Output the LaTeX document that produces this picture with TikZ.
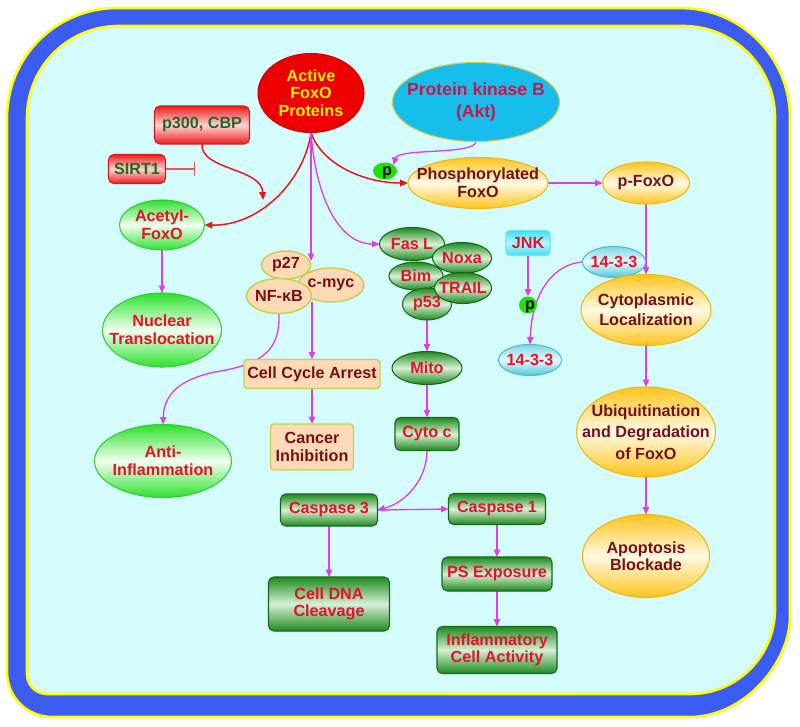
\documentclass[tikz,border=0pt]{standalone}
\usepackage{fontspec}
\setmainfont{Liberation Sans}
\usetikzlibrary{shapes.geometric, arrows.meta, calc}
\definecolor{actred}{HTML}{EE0000}
\definecolor{actbd}{HTML}{D40000}
\definecolor{ylw}{HTML}{FFEE00}
\definecolor{aktfill}{HTML}{17BEEB}
\definecolor{aktbd}{HTML}{D8C848}
\definecolor{aktred}{HTML}{C8174E}
\definecolor{rtop}{HTML}{EE1C1C}
\definecolor{rmid}{HTML}{FFD4D4}
\definecolor{rbd}{HTML}{C82020}
\definecolor{dkgrn}{HTML}{1D6B2A}
\definecolor{gtop}{HTML}{2DE02D}
\definecolor{gmid}{HTML}{F2FFF2}
\definecolor{gbd}{HTML}{33CC33}
\definecolor{dgtop}{HTML}{1E8A1E}
\definecolor{dgmid}{HTML}{D6F0D6}
\definecolor{dgbd}{HTML}{126B12}
\definecolor{peach}{HTML}{FDDAB6}
\definecolor{pbd}{HTML}{C4D24A}
\definecolor{ytop}{HTML}{FFC41C}
\definecolor{ymid}{HTML}{FFFAE6}
\definecolor{ybd}{HTML}{EEB810}
\definecolor{ctop}{HTML}{7FD8E6}
\definecolor{cmid}{HTML}{E4FAFC}
\definecolor{cbot}{HTML}{4FC6DA}
\definecolor{cbd}{HTML}{55B8CC}
\definecolor{jtop}{HTML}{3EE0F2}
\definecolor{jmid}{HTML}{B8F6FB}
\definecolor{jbd}{HTML}{70E4F0}
\definecolor{pgreen}{HTML}{22E000}
\definecolor{tred}{HTML}{E8102A}
\definecolor{tmar}{HTML}{761018}
\definecolor{mag}{HTML}{E23CE6}
\definecolor{rarrow}{HTML}{E81818}
\definecolor{inhcol}{HTML}{E85858}
\definecolor{framebl}{HTML}{3A5CF0}
\definecolor{frameyl}{HTML}{FFFF00}
\definecolor{cellbg}{HTML}{D4FCFC}
\pgfdeclarelayer{bg}
\pgfdeclarelayer{edges}
\pgfsetlayers{bg,edges,main}
\tikzset{
 nbase/.style={inner sep=0pt, outer sep=0pt, line width=0.6pt},
 sz/.style 2 args={minimum width=#1*0.02cm, minimum height=#2*0.02cm},
 txt/.style={font=\bfseries\fontsize{9.2}{10}\selectfont, align=center, inner sep=0pt},
 T/.style 2 args={label={[txt,#1]center:{#2}}},
 redell/.style={nbase, ellipse, draw=actbd, fill=actred},
 aktell/.style={nbase, ellipse, draw=aktbd, fill=aktfill},
 redbox/.style={nbase, rectangle, rounded corners=3pt, draw=rbd, top color=rtop, bottom color=rtop, middle color=rmid},
 gell/.style={nbase, ellipse, draw=gbd, top color=gtop, bottom color=gtop, middle color=gmid},
 dgell/.style={nbase, ellipse, draw=dgbd, top color=dgtop, bottom color=dgtop, middle color=dgmid},
 dgbox/.style={nbase, rectangle, rounded corners=3pt, draw=dgbd, top color=dgtop, bottom color=dgtop, middle color=dgmid},
 peachell/.style={nbase, ellipse, draw=pbd, fill=peach, line width=0.8pt},
 peachbox/.style={nbase, rectangle, rounded corners=2pt, draw=pbd, fill=peach, line width=0.8pt},
 yell/.style={nbase, ellipse, draw=ybd, top color=ytop, bottom color=ytop, middle color=ymid},
 cyell/.style={nbase, ellipse, draw=cbd, top color=ctop, bottom color=cbot, middle color=cmid},
 jnkbox/.style={nbase, rectangle, rounded corners=2pt, draw=jbd, top color=jtop, bottom color=jtop, middle color=jmid},
 pcirc/.style={nbase, ellipse, fill=pgreen, draw=none, label={[txt, text=black, xshift=1.2pt, yshift=-1pt]center:p}},
 link/.style={draw=mag, line width=0.75pt, -{Triangle[length=4.2pt,width=3.6pt]}},
 rlink/.style={draw=rarrow, line width=0.85pt, -{Triangle[length=4.5pt,width=3.8pt]}},
 inhib/.style={draw=inhcol, line width=0.8pt, -{Bar[width=8pt, line width=0.8pt]}}
}
\begin{document}
\begin{tikzpicture}[x=0.02cm, y=-0.02cm]
\useasboundingbox (0,0) rectangle (800,726);
\begin{pgfonlayer}{bg}
\draw[frameyl, line width=1.5pt, fill=framebl]
 (7,118) -- (7,672) .. controls (7,697) and (27,717) .. (52,717) -- (690,717)
 .. controls (745,717) and (790,662) .. (790,617) -- (790,118)
 .. controls (790,57) and (741,8) .. (680,8) -- (117,8)
 .. controls (56,8) and (7,57) .. (7,118) -- cycle;
\draw[frameyl, line width=1.5pt, fill=cellbg]
 (27,118) -- (27,674) .. controls (27,685) and (36,694) .. (47,694) -- (690,694)
 .. controls (737,694) and (775,656) .. (775,609) -- (775,118)
 .. controls (775,67) and (734,26) .. (683,26) -- (119,26)
 .. controls (68,26) and (27,67) .. (27,118) -- cycle;
\end{pgfonlayer}

\node[redell, sz={106}{79}, T={text=ylw}{Active\\FoxO\\Proteins}] (act) at (311,93) {};
\node[aktell, sz={167}{79}, label={[txt, text=aktred, font=\bfseries\fontsize{10}{12}\selectfont]center:{Protein kinase B\\(Akt)}}] (akt) at (476,102) {};
\node[redbox, sz={95}{38}, T={text=dkgrn}{p300, CBP}] (p300) at (202,125) {};
\node[redbox, sz={57}{29}, T={text=dkgrn}{SIRT1}] (sirt) at (137,169) {};
\node[gell, sz={85}{50}, T={text=tred}{Acetyl-\\FoxO}] (acet) at (162,225) {};
\node[gell, sz={119}{74}, T={text=tred}{Nuclear\\Translocation}] (nuc) at (162,330) {};
\node[gell, sz={137}{73}, T={text=tred}{Anti-\\Inflammation}] (anti) at (163,461) {};

\node[peachell, sz={49}{28}, T={text=tmar}{p27}] (p27) at (286,265) {};
\node[peachell, sz={66}{34}, T={text=tmar}{c-myc}] (cmyc) at (331,285) {};
\node[peachell, sz={65}{35}, T={text=tmar}{NF-κB}] (nfkb) at (279,296) {};
\node[peachbox, sz={136}{29}, T={text=tmar}{Cell Cycle Arrest}] (cca) at (312,374) {};
\node[peachbox, sz={83}{46}, T={text=tmar}{Cancer\\Inhibition}] (canc) at (312,447) {};

\node[dgell, sz={65}{33}, T={text=tred}{Fas L}] (fasl) at (412,244) {};
\node[dgell, sz={54}{28}, T={text=tred}{Bim}] (bim) at (416,276) {};
\node[dgell, sz={49}{32}, T={text=tred}{p53}] (p53) at (427,304) {};
\node[dgell, sz={59}{31}, T={text=tred}{Noxa}] (noxa) at (462,258) {};
\node[dgell, sz={57}{31}, T={text=tred}{TRAIL}] (trail) at (463,288) {};
\node[dgell, sz={70}{33}, T={text=tred}{Mito}] (mito) at (427,368) {};
\node[dgbox, sz={64}{33}, T={text=tred}{Cyto c}] (cytoc) at (427,434) {};
\node[dgbox, sz={97}{32}, T={text=tred}{Caspase 3}] (casp3) at (329,510) {};
\node[dgbox, sz={121}{54}, T={text=tred}{Cell DNA\\Cleavage}] (dna) at (329,604) {};
\node[dgbox, sz={97}{31}, T={text=tred}{Caspase 1}] (casp1) at (497,509) {};
\node[dgbox, sz={110}{34}, T={text=tred}{PS Exposure}] (ps) at (497,574) {};
\node[dgbox, sz={120}{47}, T={text=tred}{Inflammatory\\Cell Activity}] (infl) at (497,650) {};

\node[yell, sz={140}{51}, T={text=tmar}{Phosphorylated\\FoxO}] (phos) at (478,183) {};
\node[yell, sz={87}{42}, T={text=tmar}{p-FoxO}] (pfoxo) at (646,183) {};
\node[pcirc, sz={24}{17}] (pa) at (385,171) {};
\node[jnkbox, sz={44}{25}, T={text=tred}{JNK}] (jnk) at (528,243) {};
\node[pcirc, sz={18}{17}] (pj) at (528,305) {};
\node[cyell, sz={63}{31}, T={text=tred}{14-3-3}] (t1) at (614,262) {};
\node[cyell, sz={63}{31}, T={text=tred}{14-3-3}] (t2) at (530,360) {};
\node[yell, sz={130}{71}, label={[txt, text=tmar, font=\bfseries\fontsize{9.2}{11.3}\selectfont]center:{Cytoplasmic\\Localization}}] (cyto) at (646,310) {};
\node[yell, sz={139}{90}, label={[txt, text=tmar, font=\bfseries\fontsize{9.2}{12.2}\selectfont]center:{Ubiquitination\\and Degradation\\of FoxO}}] (ubq) at (646,432) {};
\node[yell, sz={127}{83}, T={text=tmar}{Apoptosis\\Blockade}] (apop) at (646,556) {};

\coordinate (p27in) at (311,261);
\coordinate (acin) at (263,200);
\coordinate (sirtbar) at (195,169);

\begin{pgfonlayer}{edges}
\draw[rlink] (act.south) .. controls (305,178) and (262,226) .. (acet.east);
\draw[rlink] (act.south) .. controls (322,165) and (365,183) .. (phos.west);
\draw[link] (act.south) -- (p27in);
\draw[link] (act.south) .. controls (316,200) and (340,244) .. (fasl.west);
\draw[link] (akt.south) .. controls (476,155) and (398,148) .. (pa.north east);
\draw[link] (phos.east) -- (pfoxo.west);
\draw[link] (pfoxo.south) -- (cyto.north);
\draw[link] (t1.west) .. controls (555,264) and (532,290) .. (t2.north);
\draw[link] (jnk.south) -- (pj.north);
\draw[link] (cyto.south) -- (ubq.north);
\draw[link] (ubq.south) -- (apop.north);
\draw[link] (acet.south) -- (nuc.north);
\draw[link] (nfkb.south) .. controls (280,348) and (266,364) .. (215,372) .. controls (178,380) and (164,395) .. (anti.north);
\draw[link] (cca.north |- cmyc.south) -- (cca.north);
\draw[link] (cca.south) -- (canc.north);
\draw[link] (p53.south) -- (mito.north);
\draw[link] (mito.south) -- (cytoc.north);
\draw[link] (cytoc.south) .. controls (427,480) and (405,503) .. (casp3.east);
\draw[link] (casp3.east) -- (casp1.west);
\draw[link] (casp3.south) -- (dna.north);
\draw[link] (casp1.south) -- (ps.north);
\draw[link] (ps.south) -- (infl.north);
\draw[rlink] (p300.south) .. controls (200,170) and (262,168) .. (acin);
\draw[inhib] (sirt.east) -- (sirtbar);
\end{pgfonlayer}
\end{tikzpicture}
\end{document}
